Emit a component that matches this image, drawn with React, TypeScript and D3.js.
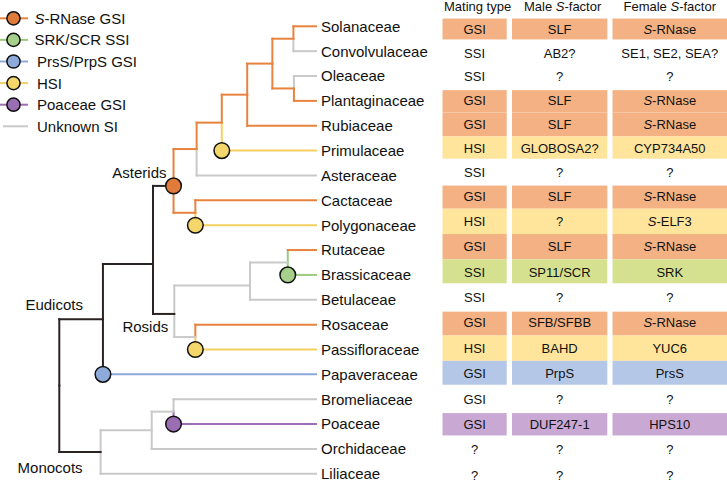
import React from "react";
import * as d3 from "d3";

// ---------- data ----------
const taxa = [
  "Solanaceae", "Convolvulaceae", "Oleaceae", "Plantaginaceae", "Rubiaceae",
  "Primulaceae", "Asteraceae", "Cactaceae", "Polygonaceae", "Rutaceae",
  "Brassicaceae", "Betulaceae", "Rosaceae", "Passifloraceae", "Papaveraceae",
  "Bromeliaceae", "Poaceae", "Orchidaceae", "Liliaceae",
];
// SI class of the branch leading to each taxon (S: S-RNase GSI, B: SRK/SCR SSI,
// P: PrsS/PrpS GSI, H: HSI, G: Poaceae GSI, U: unknown)
const leafSI = ["S", "U", "U", "S", "S", "H", "U", "S", "H", "S", "B", "U", "S", "H", "P", "U", "G", "U", "U"];
const matingType = ["GSI", "SSI", "SSI", "GSI", "GSI", "HSI", "SSI", "GSI", "HSI", "GSI", "SSI", "SSI", "GSI", "HSI", "GSI", "GSI", "GSI", "?", "?"];
const maleFactor = ["SLF", "AB2?", "?", "SLF", "SLF", "GLOBOSA2?", "?", "SLF", "?", "SLF", "SP11/SCR", "?", "SFB/SFBB", "BAHD", "PrpS", "?", "DUF247-1", "?", "?"];
const femaleFactor = ["S-RNase", "SE1, SE2, SEA?", "?", "S-RNase", "S-RNase", "CYP734A50", "?", "S-RNase", "S-ELF3", "S-RNase", "SRK", "?", "S-RNase", "YUC6", "PrsS", "?", "HPS10", "?", "?"];
const rowFill = ["S", "", "", "S", "S", "H", "", "S", "H", "S", "B", "", "S", "H", "P", "", "G", "", ""];
const headers = ["Mating type", "Male S-factor", "Female S-factor"];

// internal nodes: children, relative depth (0 root .. 1 tips), optional row position
const nodeIds = ["root", "eudicots", "core", "asterids", "astA", "astB", "astC", "astD", "solConv", "olePlant", "cactPoly", "rosids", "rosA", "rutBras", "rosPass", "monocots", "monoA", "bromPoa"];
const nodeKids = [
  ["eudicots", "monocots"],
  ["core", "Papaveraceae"],
  ["asterids", "rosids"],
  ["astA", "cactPoly"],
  ["astB", "Asteraceae"],
  ["astC", "Primulaceae"],
  ["astD", "Rubiaceae"],
  ["solConv", "olePlant"],
  ["Solanaceae", "Convolvulaceae"],
  ["Oleaceae", "Plantaginaceae"],
  ["Cactaceae", "Polygonaceae"],
  ["rosA", "rosPass"],
  ["rutBras", "Betulaceae"],
  ["Rutaceae", "Brassicaceae"],
  ["Rosaceae", "Passifloraceae"],
  ["monoA", "Liliaceae"],
  ["bromPoa", "Orchidaceae"],
  ["Bromeliaceae", "Poaceae"],
];
const nodeDepth = [0, 0.17, 0.365, 0.445, 0.535, 0.633, 0.732, 0.83, 0.912, 0.914, 0.53, 0.448, 0.743, 0.89, 0.53, 0.161, 0.36, 0.445];
const nodeRow = [null, null, 9.56, 6.42, null, null, null, null, null, null, null, 11.57, 10.43, null, null, null, null, null];
const nodeSI = ["K", "K", "K", "K", "S", "S", "S", "S", "S", "S", "S", "K", "U", "U", "U", "K", "U", "U"];
const stemOverride: Record<string, string> = { Rutaceae: "B", Papaveraceae: "K" };
const baseMarkers = ["Primulaceae", "Polygonaceae", "Brassicaceae", "Passifloraceae", "Papaveraceae", "Poaceae"];
const nodeMarkers = ["asterids"];
const cladeLabels = [
  { node: "asterids", text: "Asterids", dx: -7, dy: -8 },
  { node: "rosids", text: "Rosids", dx: -6, dy: 18 },
  { node: "eudicots", text: "Eudicots", dx: -20, dy: -9 },
  { node: "monocots", text: "Monocots", dx: -18, dy: 21 },
];

const legendKeys = ["S", "B", "P", "H", "G", "U"];
const legendLabels = ["S-RNase GSI", "SRK/SCR SSI", "PrsS/PrpS GSI", "HSI", "Poaceae GSI", "Unknown SI"];

// ---------- styles ----------
const lineColor: Record<string, string> = {
  S: "#E8833F", B: "#9DCB7E", P: "#8DA9D9", H: "#F5D061", G: "#9C6DB5", U: "#C9C9C9", K: "#2B2222",
};
const markerColor: Record<string, string> = {
  S: "#E07B39", B: "#A7D08C", P: "#8EAADB", H: "#F5D66B", G: "#9A6EB3",
};
const cellColor: Record<string, string> = {
  S: "#F4B183", B: "#D6E190", P: "#B4C7E7", H: "#FFE49B", G: "#C9A9D3",
};
const FONT = "'Liberation Sans', Arial, Helvetica, sans-serif";

const W = 727, H = 483;

const x = d3.scaleLinear().domain([0, 1]).range([59.3, 316]);
const y = d3.scaleLinear().domain([0, taxa.length - 1]).range([26.3, 473.8]);
const yt = d3.scaleLinear().domain([0, 7, taxa.length - 1]).range([29, 196, 475]);
const cols = [
  [442.5, 506.7],
  [512, 607.3],
  [612.5, 728],
];

type P = { x: number; y: number; si: string; kids: string[] };

function layout() {
  const pos: Record<string, P> = {};
  taxa.forEach((t, i) => {
    pos[t] = { x: x(1), y: y(i), si: leafSI[i], kids: [] };
  });
  const idx = (id: string) => nodeIds.indexOf(id);
  const rowOf = (id: string): number => {
    const ti = taxa.indexOf(id);
    if (ti >= 0) return ti;
    const i = idx(id);
    if (nodeRow[i] != null) return nodeRow[i] as number;
    const k = nodeKids[i];
    return (rowOf(k[0]) + rowOf(k[k.length - 1])) / 2;
  };
  nodeIds.forEach((id, i) => {
    pos[id] = { x: x(nodeDepth[i]), y: y(rowOf(id)), si: nodeSI[i], kids: nodeKids[i] };
  });
  return pos;
}

function Txt({ s }: { s: string }) {
  if (s.startsWith("S-")) {
    return (
      <>
        <tspan fontStyle="italic">S</tspan>
        {s.slice(1)}
      </>
    );
  }
  const m = s.match(/^(Male|Female) S-(.*)$/);
  if (m) {
    return (
      <>
        {m[1] + " "}
        <tspan fontStyle="italic">S</tspan>
        {"-" + m[2]}
      </>
    );
  }
  return <>{s}</>;
}

export default function App() {
  const pos = layout();
  const verticals: JSX.Element[] = [];
  const horizontals: JSX.Element[] = [];
  nodeIds.forEach((id) => {
    const p = pos[id];
    p.kids.forEach((k) => {
      const c = pos[k];
      const stem = stemOverride[k] ?? c.si;
      verticals.push(
        <line key={"v" + k} x1={p.x} x2={p.x} y1={p.y} y2={c.y}
          stroke={lineColor[stem]} strokeWidth={2} strokeLinecap="square" />
      );
      horizontals.push(
        <line key={"h" + k} x1={p.x} x2={c.x} y1={c.y} y2={c.y}
          stroke={lineColor[c.si]} strokeWidth={2} strokeLinecap="square" />
      );
    });
  });
  const parentOf = (k: string) => nodeIds.find((id) => pos[id].kids.includes(k)) as string;

  // table cells
  const cells: JSX.Element[] = [];
  rowFill.forEach((f, i) => {
    if (!f) return;
    const yc = yt(i);
    const prev = i > 0 ? yt(i - 1) : yc - (yt(1) - yt(0));
    const next = i < taxa.length - 1 ? yt(i + 1) : yc + (yt(1) - yt(0));
    const prevFilled = i > 0 && rowFill[i - 1] !== "";
    const nextFilled = i < taxa.length - 1 && rowFill[i + 1] !== "";
    const top = (yc + prev) / 2 + (prevFilled ? 0 : 1.5);
    const bot = (yc + next) / 2 - (nextFilled ? 0 : 1.5);
    cols.forEach((c, j) => {
      cells.push(
        <rect key={`c${i}-${j}`} x={c[0]} y={top} width={c[1] - c[0]} height={bot - top}
          fill={cellColor[f]} />
      );
    });
  });

  const columns = [matingType, maleFactor, femaleFactor];

  return (
    <svg width={W} height={H} style={{ position: "absolute", left: 0, top: 0, background: "#fff" }}
      fontFamily={FONT}>
      {/* legend */}
      <g>
        {legendKeys.map((k, i) => {
          const ly = 18.3 + i * 21.6;
          return (
            <g key={k}>
              <line x1={k === "U" ? 3 : 0} x2={28} y1={ly} y2={ly} stroke={lineColor[k]} strokeWidth={2} />
              {k !== "U" && (
                <circle cx={13.5} cy={ly} r={6.6} fill={markerColor[k]} stroke="#111" strokeWidth={1.5} />
              )}
              <text x={i < 2 ? 34.5 : 37} y={ly} dy="0.36em" fontSize={15} fill="#111">
                <Txt s={legendLabels[i]} />
              </text>
            </g>
          );
        })}
      </g>

      {/* tree */}
      <g>
        {verticals}
        {horizontals}
        {baseMarkers.map((k) => {
          const c = pos[k];
          const p = pos[parentOf(k)];
          return (
            <circle key={"m" + k} cx={p.x} cy={c.y} r={7.8} fill={markerColor[c.si]} stroke="#111" strokeWidth={1.5} />
          );
        })}
        {nodeMarkers.map((id) => {
          const p = pos[id];
          const k = p.kids[0];
          return (
            <circle key={"n" + id} cx={p.x} cy={p.y} r={7.8} fill={markerColor[pos[k].si]} stroke="#111" strokeWidth={1.5} />
          );
        })}
        {taxa.map((t, i) => (
          <text key={t} x={x(1) + 5} y={y(i)} dy="0.36em" fontSize={15} fill="#111">
            {t}
          </text>
        ))}
        {cladeLabels.map((l) => (
          <text key={l.text} x={pos[l.node].x + l.dx} y={pos[l.node].y + l.dy} fontSize={15}
            textAnchor="end" fill="#111">
            {l.text}
          </text>
        ))}
      </g>

      {/* table */}
      <g>
        {cells}
        {headers.map((h, j) => (
          <text key={h} x={(cols[j][0] + Math.min(cols[j][1], W)) / 2 + (j < 2 ? 3 : 0)} y={11} fontSize={13}
            textAnchor="middle" fill="#111">
            <Txt s={h} />
          </text>
        ))}
        {columns.map((col, j) =>
          col.map((v, i) => (
            <text key={`t${j}-${i}`} x={(cols[j][0] + Math.min(cols[j][1], W)) / 2} y={yt(i)} dy="0.36em"
              fontSize={13} textAnchor="middle" fill="#111">
              <Txt s={v} />
            </text>
          ))
        )}
      </g>
    </svg>
  );
}
